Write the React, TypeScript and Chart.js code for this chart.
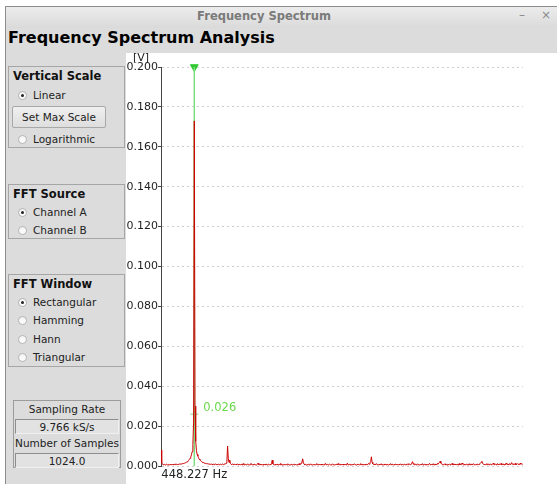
import React, { useEffect, useRef } from "react";
import { Chart, registerables } from "chart.js";

Chart.register(...registerables);

// Acquisition settings
const SAMPLE_RATE_HZ = 9765.625;
const SAMPLE_COUNT = 1024;

// Magnitude spectrum of channel A, one value per FFT bin, in millivolts
const spectrumMv: number[] = [
  8.0, 1.6, 0.9, 0.7, 0.6, 0.8, 0.5, 0.7, 0.9, 0.6, 0.5, 0.8, 0.6, 0.7, 1.0, 0.6,
  0.7, 0.9, 0.6, 0.8, 0.7, 1.1, 0.8, 0.7, 0.9, 0.8, 1.0, 0.9, 1.1, 1.0, 1.2, 1.1,
  1.3, 1.4, 1.6, 1.7, 1.9, 2.1, 2.4, 2.8, 3.3, 3.9, 4.6, 5.6, 7.2, 10.8, 22.0, 173.0,
  30.0, 12.5, 7.8, 5.8, 5.0, 4.1, 3.4, 3.0, 2.6, 2.3, 2.0, 1.8, 1.7, 1.5, 1.4, 1.3,
  1.2, 1.1, 1.2, 1.0, 0.9, 1.1, 0.8, 0.9, 1.0, 0.7, 0.9, 0.8, 0.7, 1.0, 0.8, 0.6,
  0.8, 0.9, 0.7, 0.6, 0.9, 0.7, 0.8, 1.0, 0.7, 0.9, 1.1, 1.0, 1.4, 2.2, 10.0, 3.6,
  1.8, 3.0, 1.2, 0.9, 0.7, 1.0, 0.8, 0.6, 0.9, 0.7, 0.8, 0.6, 1.1, 0.7, 0.5, 0.8,
  0.6, 0.9, 0.7, 0.5, 1.2, 0.7, 0.6, 0.8, 0.5, 0.7, 0.9, 0.6, 0.8, 0.5, 0.7, 1.3,
  0.7, 0.6, 0.8, 0.5, 0.9, 0.6, 0.7, 0.5, 0.8, 1.4, 0.7, 0.6, 0.9, 0.5, 0.7, 0.6,
  0.8, 0.5, 0.7, 1.0, 0.6, 0.8, 0.5, 0.7, 0.9, 0.6, 0.8, 0.6, 1.2, 2.9, 1.1, 0.7,
  0.6, 0.8, 0.5, 0.7, 0.9, 0.6, 0.5, 0.8, 0.6, 1.3, 0.7, 0.5, 0.8, 0.6, 0.7, 0.9,
  0.5, 0.7, 0.6, 1.1, 0.8, 0.5, 0.7, 0.6, 0.9, 0.5, 0.7, 0.8, 0.6, 1.0, 0.7, 0.5,
  0.8, 0.6, 0.7, 1.2, 0.6, 0.9, 1.4, 2.0, 3.6, 1.6, 0.9, 0.6, 0.8, 0.5, 0.7, 0.6,
  0.9, 0.5, 0.7, 1.1, 0.6, 0.8, 0.5, 0.7, 0.6, 0.9, 0.5, 0.8, 1.2, 0.6, 0.7, 0.5,
  0.8, 0.6, 1.0, 0.5, 0.7, 0.6, 0.8, 0.5, 1.3, 0.7, 0.6, 0.8, 0.5, 0.7, 0.9, 0.6,
  0.5, 0.7, 1.1, 0.6, 0.8, 0.5, 0.7, 0.6, 0.9, 0.5, 1.2, 0.7, 0.6, 0.8, 0.5, 0.7,
  0.6, 1.0, 0.5, 0.7, 0.8, 0.6, 0.5, 1.4, 0.7, 0.6, 0.8, 0.5, 0.9, 0.6, 0.7, 0.5,
  0.8, 1.1, 0.6, 0.7, 0.5, 0.8, 0.6, 0.9, 0.5, 0.7, 1.2, 0.6, 0.8, 0.5, 0.7, 0.6,
  0.9, 0.5, 0.8, 0.7, 1.0, 1.3, 0.9, 1.6, 2.2, 4.6, 1.8, 1.1, 0.7, 0.9, 0.6, 0.8,
  1.2, 0.6, 0.7, 0.5, 0.9, 0.6, 0.8, 1.1, 0.5, 0.7, 0.6, 0.9, 0.5, 0.8, 0.6, 1.0,
  0.7, 0.5, 0.8, 0.6, 1.2, 0.7, 0.5, 0.9, 0.6, 0.7, 0.5, 1.0, 0.8, 0.6, 0.7, 0.5,
  0.9, 0.6, 1.1, 0.7, 0.5, 0.8, 0.6, 0.7, 1.0, 0.5, 0.8, 0.6, 0.9, 0.7, 1.2, 0.8,
  0.6, 1.0, 1.4, 2.2, 1.3, 0.8, 0.6, 0.9, 0.5, 0.7, 1.1, 0.6, 0.8, 0.5, 0.7, 0.9,
  0.6, 1.2, 0.5, 0.7, 0.8, 0.6, 1.0, 0.5, 0.7, 0.6, 0.9, 1.3, 0.7, 0.5, 0.8, 0.6,
  1.1, 0.7, 0.6, 0.9, 0.5, 0.8, 1.2, 0.9, 1.4, 1.8, 2.4, 1.5, 1.0, 0.7, 0.9, 0.6,
  0.8, 1.1, 0.6, 0.7, 0.5, 0.9, 0.6, 1.0, 0.7, 0.5, 0.8, 1.3, 0.6, 0.7, 0.9, 0.5,
  0.8, 0.6, 1.0, 0.7, 0.5, 1.2, 0.6, 0.8, 0.7, 1.5, 0.9, 0.6, 0.8, 0.5, 0.7, 1.0,
  0.6, 0.8, 0.5, 1.1, 0.7, 0.6, 0.9, 0.5, 0.8, 1.2, 0.6, 0.7, 0.5, 0.9, 0.6, 1.0,
  0.7, 0.8, 1.1, 1.5, 1.9, 2.3, 1.4, 0.9, 0.7, 1.0, 0.6, 0.8, 1.2, 0.6, 0.9, 0.7,
  0.5, 1.1, 0.7, 0.6, 0.9, 1.4, 0.8, 0.6, 1.0, 0.7, 0.5, 1.2, 0.8, 0.6, 0.9, 0.7,
  1.3, 0.6, 0.8, 1.0, 0.7, 0.5, 1.1, 0.8, 1.5, 0.7, 0.9, 0.6, 1.2, 0.8, 1.0, 1.7,
  0.9, 0.7, 1.1, 0.8, 1.3, 0.6, 0.9, 1.2, 0.8, 1.0, 0.7, 1.4, 0.9, 1.1, 0.8, 1.2,
];

// Vertical axis (volts)
const Y_MIN = 0;
const Y_MAX = 0.2;
const Y_STEP = 0.02;

// Frequency cursor
const cursorHz = 448.227;
const cursorValue = 0.026;
const cursorLabel = "448.227 Hz";
const cursorValueLabel = "0.026";

// Side panel contents
const scaleOptions = ["Linear", "Logarithmic"];
const sourceOptions = ["Channel A", "Channel B"];
const windowOptions = ["Rectangular", "Hamming", "Hann", "Triangular"];
const sampleRateText = "9.766 kS/s";
const sampleCountText = "1024.0";

const FONT = "'DejaVu Sans', sans-serif";
const PANEL_BG = "#dcdcdc";
const CURSOR_GREEN = "#7ede7e";

const binHz = SAMPLE_RATE_HZ / SAMPLE_COUNT;

const overlayText = {
  id: "overlayText",
  afterDatasetsDraw(chart: any) {
    const { ctx, chartArea, scales } = chart;
    const xs = scales.x.getPixelForValue(cursorHz);
    const yv = scales.y.getPixelForValue(cursorValue);
    ctx.save();
    ctx.font = `11px ${FONT}`;
    ctx.textBaseline = "middle";
    ctx.fillStyle = "#222";
    ctx.textAlign = "center";
    ctx.fillText("[V]", chartArea.left - 20, chartArea.top - 9);
    ctx.font = `11.5px ${FONT}`;
    ctx.fillText(cursorLabel, xs, chartArea.bottom + 9);
    ctx.textAlign = "left";
    ctx.fillStyle = "#6ad84a";
    ctx.fillText(cursorValueLabel, xs + 9, yv - 6);
    ctx.restore();
  },
};

function Radio({ label, checked, top }: { label: string; checked: boolean; top: number }) {
  return (
    <div style={{ position: "absolute", left: 9, top: top - 7, height: 14, display: "flex", alignItems: "center" }}>
      <div
        style={{
          width: 9,
          height: 9,
          borderRadius: "50%",
          border: "1px solid #b4b4b4",
          background: "linear-gradient(#f4f4f4, #ffffff)",
          position: "relative",
          boxSizing: "border-box",
        }}
      >
        {checked && (
          <div
            style={{
              position: "absolute",
              left: 2,
              top: 2,
              width: 3,
              height: 3,
              borderRadius: "50%",
              background: "#222",
            }}
          />
        )}
      </div>
      <span style={{ marginLeft: 6, fontSize: 10.5, color: "#222" }}>{label}</span>
    </div>
  );
}

function GroupBox({
  title,
  top,
  height,
  children,
}: {
  title: string;
  top: number;
  height: number;
  children?: React.ReactNode;
}) {
  return (
    <div
      style={{
        position: "absolute",
        left: 8,
        top,
        width: 117,
        height,
        border: "1px solid #a6a6a6",
        boxSizing: "border-box",
      }}
    >
      <div style={{ position: "absolute", left: 4, top: 2, fontSize: 11.5, fontWeight: "bold", color: "#111" }}>
        {title}
      </div>
      {children}
    </div>
  );
}

export default function App() {
  const canvasRef = useRef<HTMLCanvasElement | null>(null);

  useEffect(() => {
    if (!canvasRef.current) return;
    const spectrum = spectrumMv.map((mv, i) => ({ x: i * binHz, y: mv / 1000 }));
    const chart = new Chart(canvasRef.current, {
      type: "line",
      data: {
        datasets: [
          {
            data: spectrum,
            borderColor: "#cc0000",
            borderWidth: 1,
            pointRadius: 0,
            tension: 0,
          },
          {
            data: [
              { x: cursorHz, y: Y_MIN },
              { x: cursorHz, y: Y_MAX },
            ],
            borderColor: CURSOR_GREEN,
            borderWidth: 1.5,
            pointRadius: 0,
          },
          {
            data: [{ x: cursorHz, y: cursorValue }],
            showLine: false,
            pointStyle: "cross",
            pointRadius: 4,
            borderColor: CURSOR_GREEN,
            borderWidth: 1,
            clip: false,
          },
          {
            data: [{ x: cursorHz, y: Y_MAX }],
            showLine: false,
            pointStyle: "triangle",
            rotation: 180,
            pointRadius: 4.5,
            backgroundColor: "#2ec82e",
            borderColor: "#2ec82e",
            borderWidth: 1,
            clip: false,
          },
        ],
      } as any,
      options: {
        animation: false,
        responsive: false,
        maintainAspectRatio: false,
        devicePixelRatio: 1,
        events: [],
        layout: { padding: { left: 0, top: 14, right: 34, bottom: 18 } },
        plugins: { legend: { display: false }, tooltip: { enabled: false } },
        scales: {
          x: {
            type: "linear",
            display: false,
            min: 0,
            max: (spectrumMv.length - 1) * binHz,
          },
          y: {
            type: "linear",
            min: Y_MIN,
            max: Y_MAX,
            afterFit: (scale: any) => {
              scale.width = 37;
            },
            ticks: {
              stepSize: Y_STEP,
              padding: 0,
              color: "#1e1e1e",
              font: { family: FONT, size: 11 },
              callback: (v: any) => Number(v).toFixed(3),
            },
            grid: {
              color: "#cfcfcf",
              lineWidth: 1,
              tickLength: 3,
              tickColor: "#444",
              tickBorderDash: [],
            },
            border: { display: true, color: "#444", width: 1, dash: [2, 3] },
          },
        },
      } as any,
      plugins: [overlayText],
    });
    return () => chart.destroy();
  }, []);

  return (
    <div
      style={{
        position: "fixed",
        left: 0,
        top: 0,
        width: 557,
        height: 484,
        overflow: "hidden",
        background: "#ffffff",
        fontFamily: FONT,
      }}
    >
      {/* window frame */}
      <div
        style={{
          position: "absolute",
          left: 5,
          top: 6,
          width: 560,
          height: 490,
          borderTop: "1px solid #8c8c8c",
          borderLeft: "1px solid #8c8c8c",
          background: PANEL_BG,
        }}
      />
      {/* title bar */}
      <div
        style={{
          position: "absolute",
          left: 6,
          top: 7,
          width: 560,
          height: 21,
          background: "linear-gradient(#ececec, #dadada)",
        }}
      />
      <div
        style={{
          position: "absolute",
          left: 164,
          top: 9,
          width: 200,
          textAlign: "center",
          fontSize: 11.5,
          fontWeight: "bold",
          color: "#7a7a7a",
        }}
      >
        Frequency Spectrum
      </div>
      <div style={{ position: "absolute", left: 519, top: 8, fontSize: 12, color: "#8a8a8a" }}>–</div>
      <div style={{ position: "absolute", left: 541, top: 8, fontSize: 12, color: "#8a8a8a" }}>×</div>
      {/* heading */}
      <div
        style={{
          position: "absolute",
          left: 8,
          top: 28,
          fontSize: 16,
          fontWeight: "bold",
          color: "#000",
        }}
      >
        Frequency Spectrum Analysis
      </div>
      {/* plot background */}
      <div
        style={{
          position: "absolute",
          left: 126,
          top: 53,
          width: 440,
          height: 440,
          background: "#ffffff",
        }}
      />
      <canvas
        ref={canvasRef}
        width={433}
        height={431}
        style={{ position: "absolute", left: 124, top: 53, width: 433, height: 431 }}
      />
      {/* control panel */}
      <div
        style={{
          position: "absolute",
          left: 6,
          top: 53,
          width: 120,
          height: 440,
          background: PANEL_BG,
          zIndex: 1,
        }}
      >
        <div style={{ position: "absolute", left: -6, top: 0 }}>
          <GroupBox title="Vertical Scale" top={13} height={82}>
            <Radio label={scaleOptions[0]} checked top={28} />
            <div
              style={{
                position: "absolute",
                left: 3,
                top: 39,
                width: 94,
                height: 22,
                boxSizing: "border-box",
                border: "1px solid #a8a8a8",
                borderRadius: 2,
                background: "linear-gradient(#efefef, #dedede)",
                fontSize: 10.5,
                color: "#222",
                display: "flex",
                alignItems: "center",
                justifyContent: "center",
              }}
            >
              Set Max Scale
            </div>
            <Radio label={scaleOptions[1]} checked={false} top={72} />
          </GroupBox>
          <GroupBox title="FFT Source" top={131} height={55}>
            <Radio label={sourceOptions[0]} checked top={27} />
            <Radio label={sourceOptions[1]} checked={false} top={45} />
          </GroupBox>
          <GroupBox title="FFT Window" top={221} height={93}>
            <Radio label={windowOptions[0]} checked top={27} />
            <Radio label={windowOptions[1]} checked={false} top={45} />
            <Radio label={windowOptions[2]} checked={false} top={64} />
            <Radio label={windowOptions[3]} checked={false} top={82} />
          </GroupBox>
          {/* acquisition info table */}
          <div
            style={{
              position: "absolute",
              left: 13,
              top: 347,
              width: 108,
              height: 68,
              border: "1px solid #9c9c9c",
              boxSizing: "border-box",
              fontSize: 10.5,
              color: "#222",
              textAlign: "center",
            }}
          >
            <div style={{ position: "absolute", left: 0, right: 0, top: 1, height: 14, lineHeight: "14px" }}>
              Sampling Rate
            </div>
            <div
              style={{
                position: "absolute",
                left: 1,
                right: 1,
                top: 18,
                height: 15,
                lineHeight: "14px",
                borderTop: "1px solid #8e8e8e",
                borderLeft: "1px solid #8e8e8e",
                borderBottom: "1px solid #f0f0f0",
                borderRight: "1px solid #f0f0f0",
                boxSizing: "border-box",
                background: "#e2e2e2",
              }}
            >
              {sampleRateText}
            </div>
            <div style={{ position: "absolute", left: 0, right: 0, top: 35, height: 14, lineHeight: "14px" }}>
              Number of Samples
            </div>
            <div
              style={{
                position: "absolute",
                left: 1,
                right: 1,
                top: 52,
                height: 15,
                lineHeight: "14px",
                borderTop: "1px solid #8e8e8e",
                borderLeft: "1px solid #8e8e8e",
                borderBottom: "1px solid #f0f0f0",
                borderRight: "1px solid #f0f0f0",
                boxSizing: "border-box",
                background: "#e2e2e2",
              }}
            >
              {sampleCountText}
            </div>
          </div>
        </div>
      </div>
    </div>
  );
}
